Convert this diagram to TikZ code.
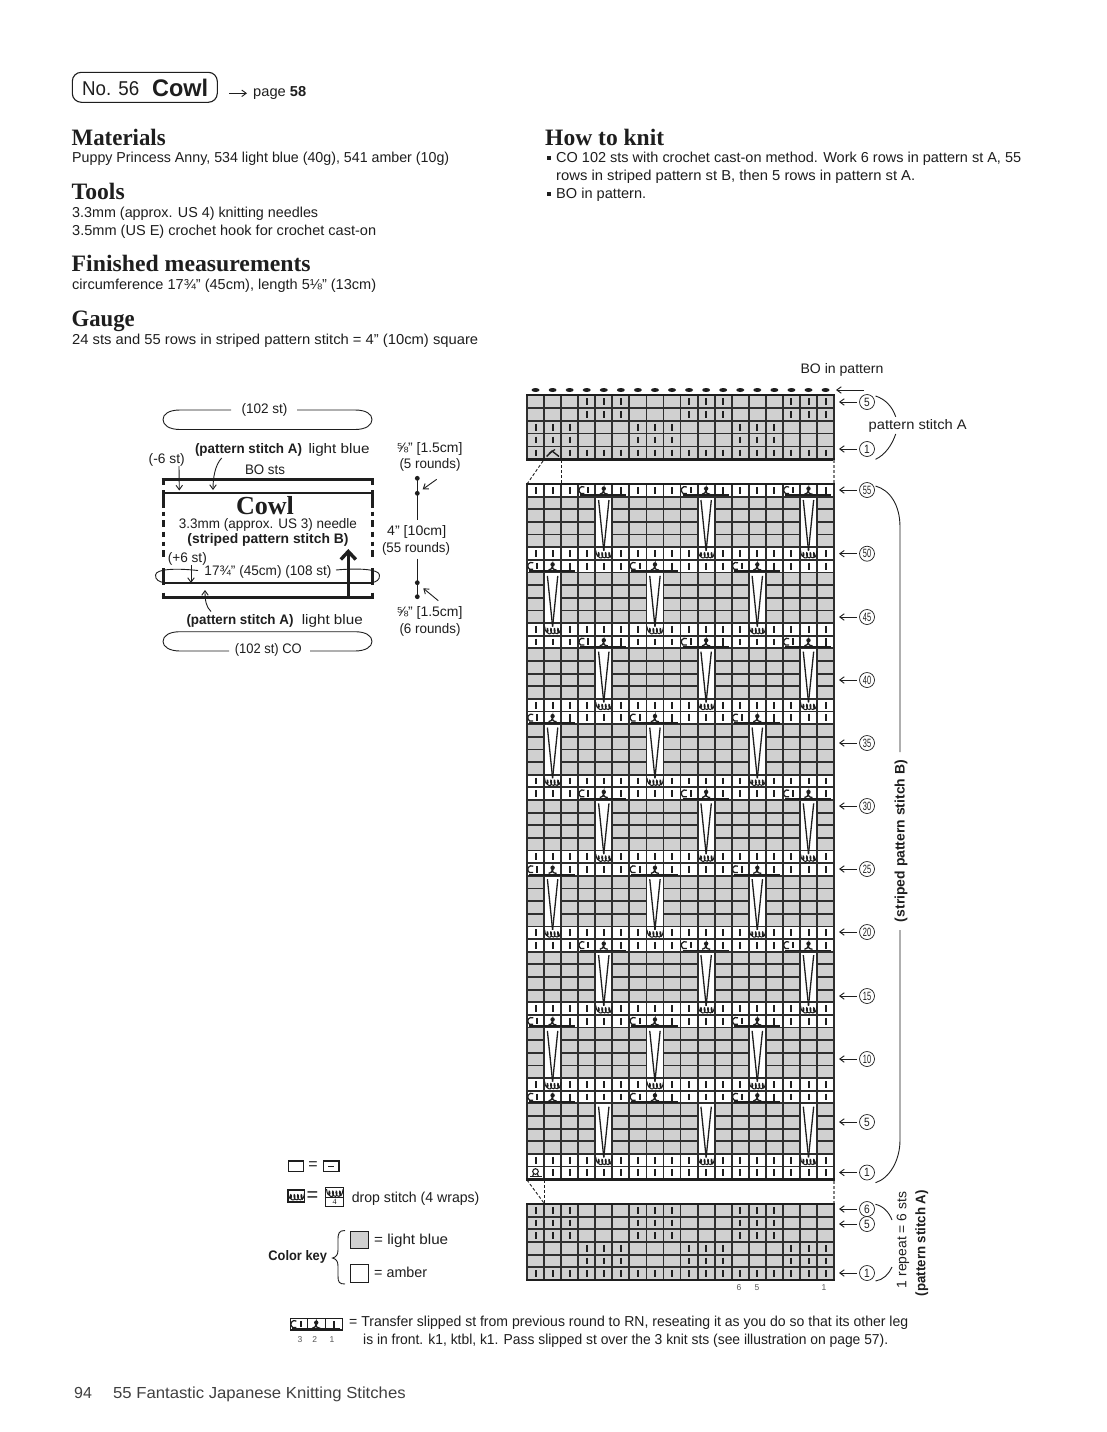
\documentclass[tikz,border=0pt]{standalone}
\usepackage{fontspec}
\usepackage{graphicx}
\usetikzlibrary{arrows.meta}
\setmainfont{Liberation Sans}
\newfontfamily\headfont{Liberation Serif}
\definecolor{ink}{HTML}{1E1E1E}
\definecolor{gridink}{HTML}{2E2E2E}
\definecolor{chartgray}{HTML}{D0D0D0}
\definecolor{numgray}{HTML}{555555}
\newcommand{\fitw}[2]{\resizebox{#1pt}{\height}{#2}}
\newcommand{\bodyf}{\fontsize{14.4}{16}\selectfont}
\newcommand{\headf}{\headfont\bfseries\fontsize{23.5}{26}\selectfont}
\newcommand{\smalln}{\fontsize{8.5}{10}\selectfont\color{numgray}}
\newcommand{\labf}{\fontsize{13.8}{15}\selectfont}
\tikzset{
  txt/.style={inner sep=0pt,anchor=base west,font=\bodyf,text=ink},
  lab/.style={inner sep=0pt,anchor=center,font=\labf,text=ink},
  hd/.style={inner sep=0pt,anchor=base west,font=\headf,text=ink},
  gridln/.style={draw=gridink,line width=1.8pt},
  heavy/.style={draw=ink,line width=2.6pt},
  barst/.style={draw=ink,line width=2pt},
  fine/.style={draw=ink,line width=.85pt},
  vee/.style={draw=ink,line width=1.3pt},
  arr/.style={draw=ink,line width=.9pt,-{Straight Barb[length=4.5pt,width=6.5pt]}},
  thin arc/.style={draw=ink,line width=.9pt},
  dashln/.style={draw=ink,line width=.9pt,dash pattern=on 3pt off 2pt},
  graydash/.style={draw=gray,line width=1.1pt,dash pattern=on 3pt off 2pt},
  wall/.style={draw=ink,line width=3pt},
  rnum/.style={circle,draw=ink,line width=.7pt,minimum size=15pt,inner sep=0pt,
    font=\fontsize{12}{12}\selectfont,text=ink},
}
\newcommand{\knitbar}[2]{\draw[barst] (#1,#2-3.4) -- (#1,#2+3.4);}
% loops of a drop stitch, centre (x,y)
\newcommand{\dropst}[2]{%
  \draw[fine,line width=1pt] (#1-8,#2-3.5) .. controls (#1-7.5,#2+2) and (#1-5,#2+4.5) .. (#1-4.5,#2+1)
   .. controls (#1-4.5,#2-3) and (#1-6.5,#2-2) .. (#1-5,#2+3)
   .. controls (#1-3,#2+5) and (#1-1,#2+4) .. (#1-1,#2+1)
   .. controls (#1-1,#2-3) and (#1-3,#2-2) .. (#1-1.5,#2+3)
   .. controls (#1,#2+5) and (#1+2.5,#2+4) .. (#1+2.5,#2+1)
   .. controls (#1+2.5,#2-3) and (#1+.5,#2-2) .. (#1+2,#2+3)
   .. controls (#1+3.5,#2+5) and (#1+6,#2+4) .. (#1+6,#2+1)
   .. controls (#1+6,#2-3) and (#1+4,#2-2) .. (#1+5.5,#2+3)
   .. controls (#1+6.5,#2+4.5) and (#1+8,#2+1) .. (#1+8.5,#2-3);}
% one crossed-stitch unit: left edge L, row top T, cell width W
\newcommand{\cablest}[3]{%
  \draw[fine,line width=1.25pt] (#1+.26*#3+1.8,#2+3) arc[start angle=60,end angle=300,radius=3.7pt];
  \draw[barst] (#1+.6*#3,#2+2.8) -- (#1+.6*#3,#2+9.4);
  \fill[ink] (#1+1.5*#3,#2+4.6) circle[radius=2.2pt];
  \draw[fine,line width=1.3pt] (#1+1.5*#3-4,#2+10.2) .. controls (#1+1.5*#3-1,#2+9.4) .. (#1+1.5*#3,#2+5)
     .. controls (#1+1.5*#3,#2+9.4) .. (#1+1.5*#3+4,#2+10.2);
  \draw[barst] (#1+2.5*#3,#2+2.8) -- (#1+2.5*#3,#2+10);
  \draw[ink,line width=1.9pt] (#1+2,#2+11.4) -- (#1+2.83*#3,#2+11.4);}
\newcommand{\gridblock}[3]{% top, row height, rows
  \foreach \gi in {0,...,18}{\draw[gridln] ({527+17.06*\gi},#1) -- ({527+17.06*\gi},{#1+#2*#3});}
  \foreach \gj in {0,...,#3}{\draw[gridln] (526.4,{#1+#2*\gj}) -- (834.6,{#1+#2*\gj});}}
% bars at three cols of each 6 repeat: start col, y centre
\newcommand{\barsthree}[2]{%
  \foreach \bk in {0,6,12}{\foreach \bj in {0,1,2}{%
    \pgfmathsetmacro\bx{527+17.06*(#1-1+\bk+\bj)+8.53}
    \knitbar{\bx}{#2}}}}
\begin{document}
\begin{tikzpicture}[x=1pt,y=-1pt]
\useasboundingbox (0,0) rectangle (1107,1432);
\fill[white] (0,0) rectangle (1107,1432);

%% header
\node (titlebox) [draw=ink,line width=1.1pt,rounded corners=9pt,minimum width=145pt,minimum height=30pt,inner sep=0pt] at (144.8,87.3) {};
\node (titleno) [txt,font=\fontsize{20}{22}\selectfont] at (82,95.5) {\fitw{57}{No. 56}};
\node (titlename) [txt,font=\bfseries\fontsize{24}{26}\selectfont] at (152,96.5) {\fitw{56}{Cowl}};
\coordinate (pgarrS) at (229,93.3);
\node (pageref) [txt] at (253,96) {\fitw{53}{page \textbf{58}}};
\draw[arr] (pgarrS) -- ++(18,0);

%% left text
\node (h1) [hd] at (71.5,145) {\fitw{94}{Materials}};
\node (t1) [txt] at (72,162) {\fitw{377}{Puppy Princess Anny, 534 light blue (40g), 541 amber (10g)}};
\node (h2) [hd] at (71.5,199) {\fitw{53}{Tools}};
\node (t2a) [txt] at (72,217) {\fitw{246}{3.3mm (approx. US 4) knitting needles}};
\node (t2b) [txt] at (72,235) {\fitw{304}{3.5mm (US E) crochet hook for crochet cast-on}};
\node (h3) [hd] at (71.5,271) {\fitw{239}{Finished measurements}};
\node (t3) [txt] at (72,289) {\fitw{304}{circumference 17¾" (45cm), length 5⅛" (13cm)}};
\node (h4) [hd] at (71.5,326) {\fitw{63}{Gauge}};
\node (t4) [txt] at (72,344) {\fitw{406}{24 sts and 55 rows in striped pattern stitch = 4" (10cm) square}};

%% right text
\node (h5) [hd] at (545,145) {\fitw{119}{How to knit}};
\node (b1) [inner sep=0pt,fill=ink,minimum size=4pt] at (548.5,157.5) {};
\node (t5a) [txt] at (556,162) {\fitw{465}{CO 102 sts with crochet cast-on method. Work 6 rows in pattern st A, 55}};
\node (t5b) [txt] at (556,180) {\fitw{359}{rows in striped pattern st B, then 5 rows in pattern st A.}};
\node (b2) [inner sep=0pt,fill=ink,minimum size=4pt] at (548.5,193.5) {};
\node (t5c) [txt] at (556,198) {\fitw{90}{BO in pattern.}};

%% schematic
\node (st102) [lab] at (264.5,410) {\fitw{46}{(102 st)}};
\draw[thin arc] (297,410) -- (355,410) .. controls (366,410) and (372,414) .. (372,419.5) .. controls (372,425) and (366,429.5) .. (355,429.5) -- (180,429.5) .. controls (169,429.5) and (163,425) .. (163,419.5) .. controls (163,414) and (169,410) .. (180,410) -- (231,410);
\node (stco) [lab] at (268.3,649.5) {\fitw{67}{(102 st) CO}};
\draw[thin arc] (310,651) -- (355,651) .. controls (366,651) and (372,646.5) .. (372,641.5) .. controls (372,636) and (366,631.7) .. (355,631.7) -- (180,631.7) .. controls (169,631.7) and (163,636) .. (163,641.5) .. controls (163,646.5) and (169,651) .. (180,651) -- (229,651);

\draw[wall] (161.6,479.2) -- (373.6,479.2);
\draw[wall] (161.6,597) -- (373.6,597);
\draw[ink,line width=1.6pt] (163,492.7) -- (372,492.7);
\draw[ink,line width=1.6pt] (163,582.7) -- (372,582.7);
\foreach \sx in {163.2,372}{
  \foreach \ya/\yb in {478/484.5,490/508.3,511.7/516,520/526.7,531.7/536.7,541.7/546,550/557.3,568.3/585,592.7/598.4}{
    \draw[wall] (\sx,\ya) -- (\sx,\yb);}}
\node (cowl) [inner sep=0pt,font=\headfont\bfseries\fontsize{26}{27}\selectfont,text=ink] at (265,505.8) {\fitw{58}{Cowl}};
\node (need) [lab] at (268,525) {\fitw{178}{3.3mm (approx. US 3) needle}};
\node (strip) [lab,font=\labf\bfseries] at (268,540) {\fitw{161}{(striped pattern stitch B)}};
\node (patA1) [lab,font=\labf\bfseries] at (248.5,449.5) {\fitw{107}{(pattern stitch A)}};
\node (lb1) [lab] at (339,450) {\fitw{61}{light blue}};
\node (m6) [lab] at (166.7,459.5) {\fitw{36}{(-6 st)}};
\node (bosts) [lab] at (265,470) {\fitw{40}{BO sts}};
\coordinate (m6e) at (179.3,490.5);
\draw[arr] (179,466) -- (m6e);
\coordinate (pa1e) at (213,490);
\draw[arr] (221.7,458) .. controls (215,465) and (213,478) .. (pa1e);
\node (p6) [lab] at (187.3,559) {\fitw{39}{(+6 st)}};
\coordinate (p6e) at (191,583);
\draw[arr] (191,565) -- (p6e);
\node (circ) [lab] at (268,572) {\fitw{127}{17¾" (45cm) (108 st)}};
\draw[thin arc] (198,570.5) .. controls (175,568) and (156,569) .. (155.5,575) .. controls (155,580) and (160,582) .. (163.5,582.5);
\draw[thin arc] (336,570) .. controls (358,568) and (379,569) .. (379.5,575) .. controls (380,580) and (376,582) .. (372,582.5);
\coordinate (arrup) at (348.3,549);
\draw[ink,line width=3.6pt,-{Straight Barb[length=8pt,width=15pt,line width=3.4pt]}] (348.3,597) -- (arrup);
\coordinate (pa2e) at (205,590);
\draw[arr] (211,611.5) .. controls (206,607) and (205,600) .. (pa2e);
\node (patA2) [lab,font=\labf\bfseries] at (240,621) {\fitw{107}{(pattern stitch A)}};
\node (lb2) [lab] at (332.3,621) {\fitw{61}{light blue}};

\node (d1a) [lab] at (429.5,448.5) {\fitw{66}{⅝" [1.5cm]}};
\node (d1b) [lab] at (430,465) {\fitw{61}{(5 rounds)}};
\node (d2a) [lab] at (416.7,532) {\fitw{59}{4" [10cm]}};
\node (d2b) [lab] at (416,548.5) {\fitw{68}{(55 rounds)}};
\node (d3a) [lab] at (429.5,613) {\fitw{66}{⅝" [1.5cm]}};
\node (d3b) [lab] at (430,629.5) {\fitw{61}{(6 rounds)}};
\foreach \dn/\dy in {da/478.3,db/493.3,dc/582.7,dd/596.7}{
  \node (\dn) [circle,fill=ink,inner sep=0pt,minimum size=4.8pt] at (417.3,\dy) {};}
\draw[thin arc] (da.center) -- (417.3,520);
\draw[thin arc] (417.3,558.5) -- (dd.center);
\coordinate (da1) at (422.7,489.3);
\draw[arr] (436.7,479.3) -- (da1);
\coordinate (da2) at (423.3,588.3);
\draw[arr] (438.3,600.7) -- (da2);

%% TOP BLOCK
\fill[chartgray] (527,395) rectangle (834,459.3);
\gridblock{395}{12.86}{5}
\draw[heavy] (526,395) -- (835,395);
\draw[heavy] (526,459.3) -- (835,459.3);
\foreach \ry in {401.4,414.3}{\barsthree{4}{\ry}}
\foreach \ry in {427.2,440}{\barsthree{1}{\ry}}
\foreach \cc in {1,3,4,...,18}{\pgfmathsetmacro\bx{527+17.06*(\cc-1)+8.53}\knitbar{\bx}{452.9}}
\draw[ink,line width=1.4pt] (546.5,456.5) -- (552,451) -- (559,456.5);
\draw[ink,line width=1.2pt] (549,453.5) -- (555,449.5);
\foreach \cc in {1,...,18}{\fill[ink] ({527+17.06*(\cc-1)+8.53},390) ellipse[x radius=4pt,y radius=2pt];}
\coordinate (boend) at (836,390);
\coordinate (bostart) at (864,390);
\draw[arr] (bostart) -- (boend);
\node (bolab) [lab] at (842,369.5) {\fitw{83}{BO in pattern}};

%% MAIN CHART
\fill[chartgray] (527,484) rectangle (834,1179.3);
\foreach \t in {55,49,43,37,31,25,19,13,7}{
  \pgfmathsetmacro\yy{484+12.64*(55-\t)}
  \fill[white] (527,\yy) rectangle (834,\yy+12.64);
  \fill[white] (527,\yy+63.2) rectangle (834,\yy+75.84);}
\fill[white] (527,1166.66) rectangle (834,1179.3);
\gridblock{484}{12.64}{55}
\draw[ink,line width=2pt] (526,484) -- (835,484);
\draw[heavy] (526,1179.3) -- (835,1179.3);
\foreach \t/\s/\c in {55/4/5,49/1/2,43/4/5,37/1/2,31/4/5,25/1/2,19/4/5,13/1/2,7/1/5}{
  \pgfmathsetmacro\yy{484+12.64*(55-\t)}
  \pgfmathtruncatemacro\bs{5-\s}
  \pgfmathsetmacro\yc{\yy+6.32}
  \barsthree{\bs}{\yc}
  \foreach \k in {0,6,12}{
    \pgfmathsetmacro\L{527+17.06*(\s-1+\k)}
    \cablest{\L}{\yy}{17.06}
    \pgfmathsetmacro\cl{527+17.06*(\c-1+\k)}
    \pgfmathsetmacro\cx{\cl+8.53}
    \fill[white] (\cl+.9,\yy+13.5) rectangle (\cl+16.16,\yy+62.4);
    \draw[vee] (\cx-5.2,\yy+16) -- (\cx,\yy+66.7);
    \draw[vee] (\cx+5.2,\yy+16) -- (\cx,\yy+66.7);
    \pgfmathsetmacro\dy{\yy+63.2+6.8}
    \dropst{\cx}{\dy}
  }
  \pgfmathsetmacro\yd{\yy+63.2+6.32}
  \foreach \cc in {1,...,18}{
    \pgfmathtruncatemacro\m{mod(\cc-\c,6)}
    \ifnum\m=0\relax\else
      \pgfmathsetmacro\bx{527+17.06*(\cc-1)+8.53}
      \knitbar{\bx}{\yd}
    \fi}
}
% row 1
\foreach \cc in {2,...,18}{\pgfmathsetmacro\bx{527+17.06*(\cc-1)+8.53}\knitbar{\bx}{1172.8}}
\draw[ink,line width=1.1pt] (535.5,1171.5) circle[radius=2.8pt];
\draw[ink,line width=1.4pt] (530,1176.7) -- (541.5,1176.7);
\draw[ink,line width=1.1pt] (533.5,1174) -- (532.5,1176.7) (537.5,1174) -- (538.5,1176.7);

%% connecting dashes
\draw[dashln] (543,461) -- (527,484);
\draw[dashln] (561.6,460) -- (561.6,484);
\draw[graydash] (834,460) -- (834,484);
\draw[dashln] (527,1180) -- (544.3,1203.5);
\draw[dashln] (544.3,1180) -- (544.3,1203.5);
\draw[graydash] (834,1181) -- (834,1204);

%% LOWER BLOCK
\fill[chartgray] (527,1204) rectangle (834,1280);
\gridblock{1204}{12.67}{6}
\draw[heavy] (526,1204) -- (835,1204);
\draw[ink,line width=2.8pt] (526,1280) -- (835,1280);
\foreach \ry in {1210.3,1223,1235.7}{\barsthree{1}{\ry}}
\foreach \ry in {1248.3,1261}{\barsthree{4}{\ry}}
\foreach \cc in {1,...,18}{\pgfmathsetmacro\bx{527+17.06*(\cc-1)+8.53}\knitbar{\bx}{1273.7}}
\node (c6) [inner sep=0pt,font=\smalln] at (739,1288) {6};
\node (c5) [inner sep=0pt,font=\smalln] at (757,1288) {5};
\node (c1) [inner sep=0pt,font=\smalln] at (824,1288) {1};

%% row numbers with arrows
\foreach \nm/\txt/\ny in {ta/5/402,tb/1/449,ma/55/490,mb/50/553.7,mc/45/617,md/40/680,me/35/743,mf/30/806,mg/25/869,mh/20/932,mi/15/996,mj/10/1059,mk/5/1122,ml/1/1172.5,la/6/1209,lb/5/1224,lc/1/1273}{
  \node (\nm) [rnum] at (867,\ny) {\ifnum\txt>9 \scalebox{.62}[1]{\txt}\else\scalebox{.85}[1]{\txt}\fi};
  \coordinate (\nm e) at (839,\ny);
  \draw[arr,shorten <=2pt] (\nm) -- (\nm e);
}

%% braces
\node (psa) [lab] at (917.7,426) {\fitw{98}{pattern stitch A}};
\draw[thin arc] (875.5,396) .. controls (885,399) and (892,406) .. (895.7,416.7);
\draw[thin arc] (895.7,434) .. controls (892,445) and (885,455) .. (875.5,459.3);
\node (psb) [lab,font=\labf\bfseries,rotate=90] at (901,841) {\fitw{162}{(striped pattern stitch B)}};
\draw[thin arc] (875.5,486) .. controls (890,490) and (900,505) .. (900,527) -- (900,752);
\draw[thin arc] (900,930) -- (900,1140) .. controls (900,1160) and (890,1178) .. (875.5,1182.7);
\node (rep) [lab,rotate=90] at (903,1240) {\fitw{96}{1 repeat = 6 sts}};
\node (psa2) [lab,font=\labf\bfseries,rotate=90] at (921.7,1243) {\fitw{106}{(pattern stitch A)}};
\draw[thin arc] (875.5,1204.3) .. controls (883,1206) and (889,1212) .. (892,1220);
\draw[thin arc] (892,1267) .. controls (889,1274) and (883,1280) .. (875.5,1281);

%% legend
\node (k1) [draw=ink,line width=1.1pt,minimum width=15pt,minimum height=10.7pt,inner sep=0pt] at (295.8,1166.3) {};
\node (k1e) [lab,font=\fontsize{16}{18}\selectfont] at (313,1166) {=};
\node (k2) [draw=ink,line width=1.1pt,minimum width=15.6pt,minimum height=10.7pt,inner sep=0pt] at (331.2,1166.3) {};
\draw[ink,line width=1.1pt] (k2.center) ++(-3,0) -- ++(6,0);
\node (k3) [draw=ink,line width=1.7pt,minimum width=16.3pt,minimum height=11.7pt,inner sep=0pt] at (296.2,1195.8) {};
\dropst{296}{1196}
\node (k3e) [lab,font=\fontsize{20}{20}\selectfont] at (312.5,1196.5) {=};
\node (k4) [draw=ink,line width=1.1pt,minimum width=17.6pt,minimum height=19.4pt,inner sep=0pt] at (334.5,1197) {};
\draw[ink,line width=.9pt] (k4.west) ++(0,.3) -- ++(17.6,0);
\dropst{334.5}{1192.5}
\node (k4n) [inner sep=0pt,font=\headfont\fontsize{8}{9}\selectfont,text=ink] at (334.5,1202) {4};
\node (k4t) [txt] at (351.7,1202.5) {\fitw{127.5}{drop stitch (4 wraps)}};
\node (ckey) [lab,font=\labf\bfseries] at (297.7,1257.3) {\fitw{58.5}{Color key}};
\draw[thin arc] (345,1230.5) .. controls (339,1230.5) and (338,1233) .. (338,1240) -- (338,1250) .. controls (338,1255) and (336,1257) .. (332.5,1258) .. controls (336,1259) and (338,1261) .. (338,1266) -- (338,1276) .. controls (338,1282) and (339,1284) .. (345,1284);
\node (grayb) [draw=ink,fill=chartgray,line width=1.1pt,minimum size=17.5pt,inner sep=0pt] at (359.5,1240) {};
\node (whiteb) [draw=ink,line width=1.1pt,minimum size=17.5pt,inner sep=0pt] at (359.5,1273.3) {};
\node (grayt) [txt] at (374,1244) {\fitw{74}{= light blue}};
\node (whitet) [txt] at (374,1277) {\fitw{53}{= amber}};

\fill[white] (290,1318.5) rectangle (342.7,1329);
\draw[ink,line width=.9pt] (290,1318.5) rectangle (342.7,1329.5);
\draw[ink,line width=1pt] (307.5,1318.5) -- (307.5,1329.5) (325,1318.5) -- (325,1329.5);
\cablest{290}{1318}{17.5}
\draw[ink,line width=1.8pt] (290,1329.6) -- (342.7,1329.6);
\node (n3) [inner sep=0pt,font=\smalln] at (300,1340) {3};
\node (n2) [inner sep=0pt,font=\smalln] at (314.7,1340) {2};
\node (n1) [inner sep=0pt,font=\smalln] at (332,1340) {1};
\node (f1) [txt] at (349,1326.5) {\fitw{559}{= Transfer slipped st from previous round to RN, reseating it as you do so that its other leg}};
\node (f2) [txt] at (363,1344) {\fitw{525}{is in front. k1, ktbl, k1. Pass slipped st over the 3 knit sts (see illustration on page 57).}};

%% footer
\node (pgn) [txt,font=\fontsize{16}{18}\selectfont,text=black!75] at (74,1398) {94};
\node (foot) [txt,font=\fontsize{16}{18}\selectfont,text=black!75] at (113,1398) {\fitw{292.5}{55 Fantastic Japanese Knitting Stitches}};
\end{tikzpicture}
\end{document}
